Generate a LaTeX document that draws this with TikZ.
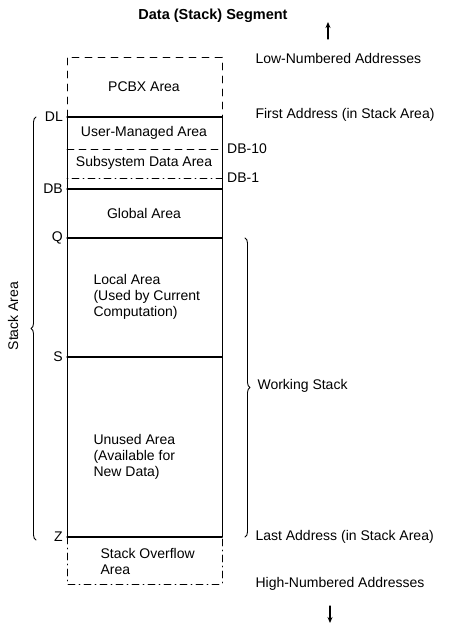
\documentclass[tikz,border=0pt]{standalone}
\usepackage{fontspec}
\setmainfont{Liberation Sans}
\usetikzlibrary{decorations.pathreplacing,arrows.meta}
\begin{document}
\begin{tikzpicture}[x=1pt, y=-1pt, line cap=round, line join=round, >={Stealth[length=6pt,width=5pt]}, font=\fontsize{14}{16}\selectfont]
\useasboundingbox (0,0) rectangle (449,626);
% Box edges
\def\xl{67}
\def\xr{222}
% Levels
\coordinate (TopL) at (\xl,57);   \coordinate (TopR) at (\xr,57);
\coordinate (DLl) at (\xl,117);   \coordinate (DLr) at (\xr,117);
\coordinate (DBtl) at (\xl,149);  \coordinate (DBtr) at (\xr,149);
\coordinate (DBol) at (\xl,178);  \coordinate (DBor) at (\xr,178);
\coordinate (DBl) at (\xl,189);   \coordinate (DBr) at (\xr,189);
\coordinate (Ql) at (\xl,238);    \coordinate (Qr) at (\xr,238);
\coordinate (Sl) at (\xl,357);    \coordinate (Sr) at (\xr,357);
\coordinate (Zl) at (\xl,537);    \coordinate (Zr) at (\xr,537);
\coordinate (BotL) at (\xl,584);  \coordinate (BotR) at (\xr,584);
% Dashed PCBX and overflow parts
\draw[line width=0.7pt, dash pattern=on 7pt off 6pt] (DLl) -- (TopL) -- (TopR) -- (DLr);
\draw[line width=0.7pt, dash pattern=on 7pt off 4pt on 1pt off 4pt] (Zl) -- (BotL) -- (BotR) -- (Zr);
% Stack area outline
\draw[line width=1pt] (DLl) -- (Zl);
\draw[line width=1pt] (DLr) -- (Zr);
\foreach \lev in {DL,DB,Q,S,Z}
  \draw[line width=1.3pt] (\lev l) -- (\lev r);
\draw[line width=0.7pt, dash pattern=on 7pt off 5pt] (DBtl) -- (DBtr);
\draw[line width=0.7pt, dash pattern=on 1pt off 4pt on 7pt off 4pt] (DBol) -- (DBor);
% Area texts
\node (pcbx) at (144,87) {PCBX Area};
\node (user) at (144,133) {User-Managed Area};
\node (subsys) at (144,163) {Subsystem Data Area};
\node (global) at (144,213) {Global Area};
\node[anchor=west, align=left] (local) at (90,297) {Local Area\\(Used by Current\\Computation)};
\node[anchor=west, align=left] (unused) at (90,457) {Unused Area\\(Available for\\New Data)};
\node[anchor=west, align=left] (overflow) at (97,561) {Stack Overflow\\Area};
% Left labels
\foreach \lev/\txt in {DL/DL,DB/DB,Q/Q,S/S,Z/Z}
  \node[anchor=east, inner sep=1pt] (lab\lev) at ([xshift=-3pt]\lev l) {\txt};
\node[anchor=west, inner sep=1pt] (labDBt) at ([xshift=4pt]DBtr) {DB-10};
\node[anchor=west, inner sep=1pt] (labDBo) at ([xshift=4pt]DBor) {DB-1};
% Right texts
\node[anchor=west] (low) at (252,58) {Low-Numbered Addresses};
\node[anchor=west] (first) at (252,115) {First Address (in Stack Area)};
\node[anchor=west] (last) at (252,537) {Last Address (in Stack Area)};
\node[anchor=west] (high) at (252,584) {High-Numbered Addresses};
% Braces
\draw[line width=0.9pt, decorate, decoration={brace, amplitude=5pt}] (36,540) -- (36,117);
\node[rotate=90] (stack) at (13,316) {Stack Area};
\draw[line width=0.9pt, decorate, decoration={brace, amplitude=5pt}] (245,238) -- (245,537);
\node[anchor=west] (working) at (254,386) {Working Stack};
% Title and arrows
\node[font=\fontsize{14.5}{16}\selectfont\bfseries] (title) at (213,16) {Data (Stack) Segment};
\coordinate (upB) at (328,39);
\coordinate (upT) at (328,22);
\draw[line width=1.2pt, ->] (upB) -- (upT);
\coordinate (dnT) at (330,606);
\coordinate (dnB) at (330,623);
\draw[line width=1.2pt, ->] (dnT) -- (dnB);
\end{tikzpicture}
\end{document}
